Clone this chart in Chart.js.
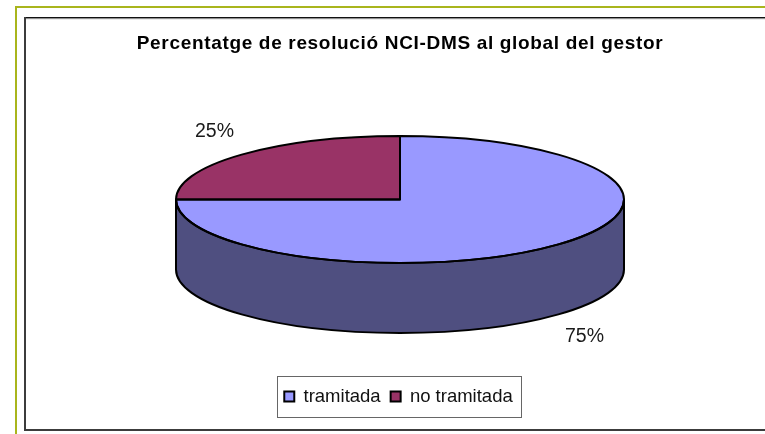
<!DOCTYPE html>
<html>
<head>
<meta charset="utf-8">
<style>html,body{margin:0;padding:0;background:#fff}canvas{display:block}</style>
<script src="https://cdn.jsdelivr.net/npm/chart.js@4"></script>
</head>
<body>
<canvas id="c" width="765" height="434"></canvas>
<script>
const titleText = 'Percentatge de resolució NCI-DMS al global del gestor';
const categories = ['tramitada', 'no tramitada'];
const values = [75, 25];
const topColors = ['#9999FF', '#993366'];
const wallColors = ['#4F4F80', '#4D1A33'];

const FONT = '"Liberation Sans", Arial, sans-serif';
const TARGET_CY = 199.5, RADIUS = 224, RY = 63.5, DEPTH = 70;
const LABEL_POS = [{dx: 184.5, dy: 137}, {dx: -185.5, dy: -68}];
const TITLE_SPACING = '0.67px';
const LEGEND_SHIFT = -1.5;

function geom(chart) {
  const arcs = chart.getDatasetMeta(0).data;
  return {arcs, cx: arcs[0].x, cy: arcs[0].y, r: arcs[0].outerRadius, ry: arcs[0].outerRadius * RY / RADIUS};
}
function wallPath(ctx, g, a, b) {
  ctx.beginPath();
  ctx.ellipse(g.cx, TARGET_CY, g.r, g.ry, 0, a, b);
  ctx.ellipse(g.cx, TARGET_CY + DEPTH, g.r, g.ry, 0, b, a, true);
  ctx.closePath();
}
const pie3d = {
  id: 'pie3d',
  afterLayout(chart) {
    chart.legend.left += LEGEND_SHIFT;
    chart.legend.right += LEGEND_SHIFT;
  },
  beforeDraw(chart) {
    const ctx = chart.ctx;
    const tb = chart.titleBlock;
    if (!tb._spaced) {
      const orig = tb.draw;
      tb.draw = function () {
        ctx.letterSpacing = TITLE_SPACING;
        orig.call(tb);
        ctx.letterSpacing = '0px';
      };
      tb._spaced = true;
    }
    ctx.save();
    ctx.fillStyle = '#fff';
    ctx.fillRect(0, 0, 765, 434);
    ctx.fillStyle = '#A9B51C';
    ctx.fillRect(15, 6, 750, 2);
    ctx.fillRect(15, 6, 2, 428);
    ctx.fillStyle = '#111';
    ctx.fillRect(24, 17, 741, 1.5);
    ctx.fillStyle = '#9a9a9a';
    ctx.fillRect(24, 18.5, 741, 0.7);
    ctx.fillStyle = '#3c3c3c';
    ctx.fillRect(24, 17, 2, 414);
    ctx.fillRect(24, 429, 741, 2);
    ctx.strokeStyle = '#666';
    ctx.lineWidth = 1;
    ctx.strokeRect(277.5, 376.5, 244, 41);
    ctx.restore();
  },
  beforeDatasetsDraw(chart) {
    const ctx = chart.ctx, g = geom(chart);
    ctx.save();
    g.arcs.forEach((arc, i) => {
      const a = Math.max(arc.startAngle, 0), b = Math.min(arc.endAngle, Math.PI);
      if (b > a) {
        wallPath(ctx, g, a, b);
        ctx.fillStyle = wallColors[i];
        ctx.fill();
      }
    });
    ctx.restore();
    ctx.save();
    ctx.translate(g.cx, TARGET_CY);
    ctx.scale(1, g.ry / g.r);
    ctx.translate(-g.cx, -g.cy);
  },
  afterDatasetsDraw(chart) {
    const ctx = chart.ctx;
    ctx.restore();
    const g = geom(chart);
    ctx.save();
    ctx.strokeStyle = '#000';
    ctx.lineWidth = 2;
    ctx.lineJoin = 'round';
    g.arcs.forEach((arc) => {
      const a = Math.max(arc.startAngle, 0), b = Math.min(arc.endAngle, Math.PI);
      if (b > a) { wallPath(ctx, g, a, b); ctx.stroke(); }
    });
    g.arcs.forEach((arc) => {
      ctx.beginPath();
      ctx.moveTo(g.cx, TARGET_CY);
      ctx.ellipse(g.cx, TARGET_CY, g.r, g.ry, 0, arc.startAngle, arc.endAngle);
      ctx.closePath();
      ctx.stroke();
    });
    const total = values.reduce((s, v) => s + v, 0);
    ctx.fillStyle = '#1a1a1a';
    ctx.font = '19.5px ' + FONT;
    ctx.textAlign = 'center';
    ctx.textBaseline = 'middle';
    values.forEach((v, i) => {
      ctx.fillText(Math.round(v / total * 100) + '%', g.cx + LABEL_POS[i].dx, TARGET_CY + LABEL_POS[i].dy);
    });
    ctx.restore();
  }
};

const chart = new Chart(document.getElementById('c'), {
  type: 'pie',
  plugins: [pie3d],
  data: {
    labels: categories,
    datasets: [{
      data: values,
      backgroundColor: topColors,
      borderWidth: 0,
      clip: false
    }]
  },
  options: {
    responsive: false,
    animation: false,
    events: [],
    rotation: 0,
    radius: RADIUS,
    layout: {padding: {left: 35, right: 0, top: 0, bottom: 18.25}},
    plugins: {
      tooltip: {enabled: false},
      title: {
        display: true,
        text: titleText,
        color: '#000',
        font: {family: FONT, size: 19, weight: 'bold', lineHeight: 1.2},
        padding: {top: 32, bottom: 10}
      },
      legend: {
        position: 'bottom',
        labels: {
          boxWidth: 10,
          boxHeight: 10,
          padding: 10,
          color: '#111',
          font: {family: FONT, size: 18.5},
          generateLabels(c) {
            return Chart.overrides.pie.plugins.legend.labels.generateLabels(c).map(it => {
              it.strokeStyle = '#000';
              it.lineWidth = 2;
              return it;
            });
          }
        }
      }
    }
  }
});
</script>
</body>
</html>
